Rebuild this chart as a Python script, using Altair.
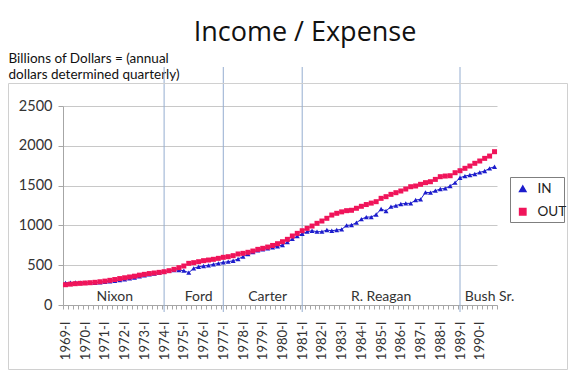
import altair as alt
import pandas as pd

years = list(range(1969, 1991))
roman = ["I", "II", "III", "IV"]
quarters = [f"{y}-{r}" for y in years for r in roman]

series_names = ["IN", "OUT"]
series_colors = ["#1C1CCC", "#F0145A"]
series_shapes = ["triangle-up", "square"]

income = [
    278, 282, 283, 282, 280, 278, 280, 285, 290, 298, 305, 312, 322, 335, 345, 360, 372, 385, 395, 408,
    418, 431, 440, 440, 431, 406, 461, 481, 490, 498, 511, 523, 536, 544, 556,
    578, 608, 640, 665, 686, 700, 712, 725, 738, 754, 790, 830, 865,
    895, 921, 933, 921, 921, 942, 933, 942, 950, 1000, 1005, 1034, 1078, 1105, 1105, 1137, 1206,
    1181, 1235, 1248, 1269, 1277, 1277, 1319, 1327, 1415, 1411, 1436, 1457, 1465, 1495, 1537, 1599,
    1620, 1633, 1646, 1666, 1683, 1717, 1737,
]
expense = [
    255, 262, 268, 272, 276, 280, 285, 292, 300, 310, 320, 332, 342, 352, 362, 375, 385, 395, 402, 410,
    418, 431, 448, 469, 490, 523, 532, 544, 557, 565, 574, 586, 599, 607, 620, 641, 649, 662, 678, 699,
    712, 728, 748, 770,
    795, 825, 867, 900, 933, 963, 992, 1026, 1055, 1089, 1130, 1152,
    1170, 1185, 1190, 1215, 1240, 1262, 1280,
    1298, 1340, 1361, 1390, 1411, 1432, 1457, 1486, 1495, 1516, 1537, 1549, 1578, 1612, 1620, 1624,
    1662, 1687, 1717, 1746, 1780, 1809, 1842, 1871, 1926,
]

president_starts = ["1974-I", "1977-I", "1981-I", "1989-I"]
president_names = ["Nixon", "Ford", "Carter", "R. Reagan", "Bush Sr."]
president_label_q = ["1971-III", "1975-IV", "1979-II", "1985-I", "1990-III"]

y_ticks = [0, 500, 1000, 1500, 2000, 2500]

df = pd.DataFrame({
    "q": quarters * 2,
    "series": ["IN"] * len(quarters) + ["OUT"] * len(quarters),
    "value": income + expense,
})
rules_df = pd.DataFrame({"q": president_starts})
labels_df = pd.DataFrame({"q": president_label_q, "name": president_names})
one_row = pd.DataFrame({"k": [0]})

W, H = 434, 199

xscale = alt.Scale(domain=quarters, type="band", paddingInner=0, paddingOuter=0)
yscale = alt.Scale(domain=[0, 2500], nice=False, zero=True)
x_axis = alt.Axis(
    title=None,
    labelExpr="slice(datum.label, 5) == 'I' ? datum.label : ''",
    labelAngle=-90,
    labelFont="Lato",
    labelFontSize=13,
    labelColor="#333333",
    labelPadding=12,
    labelOverlap=False,
    tickBand="extent",
    tickSize=4,
    tickColor="#A6A6A6",
    domainColor="#A6A6A6",
    grid=False,
)
y_axis = alt.Axis(
    values=y_ticks,
    format="d",
    labelOverlap=False,
    title=["Billions of Dollars = (annual", "dollars determined quarterly)"],
    titleAngle=0,
    titleAlign="left",
    titleBaseline="alphabetic",
    titleX=-55,
    titleY=-44,
    titleFont="Lato",
    titleFontSize=13.5,
    titleFontWeight="normal",
    titleColor="#111111",
    titleLineHeight=16,
    labelFont="Lato",
    labelFontSize=14.5,
    labelColor="#333333",
    labelPadding=6,
    tickSize=5,
    tickColor="#A6A6A6",
    domainColor="#A6A6A6",
    grid=True,
    gridColor="#C8C8C8",
)

legend = alt.Legend(
    title=None,
    orient="none",
    legendX=453,
    legendY=76,
    padding=0,
    labelFont="Lato",
    labelFontSize=13.5,
    labelColor="#222222",
    labelOffset=8,
    symbolSize=40,
    rowPadding=8,
)
color_enc = alt.Color("series:N", scale=alt.Scale(domain=series_names, range=series_colors), legend=legend)


def box(x0, x1, y0, y1, color):
    sides = [
        dict(x=alt.value(x0), x2=alt.value(x1), y=alt.value(y0), y2=alt.value(y0)),
        dict(x=alt.value(x0), x2=alt.value(x1), y=alt.value(y1), y2=alt.value(y1)),
        dict(x=alt.value(x0), x2=alt.value(x0), y=alt.value(y0), y2=alt.value(y1)),
        dict(x=alt.value(x1), x2=alt.value(x1), y=alt.value(y0), y2=alt.value(y1)),
    ]
    return [alt.Chart(one_row).mark_rule(color=color, strokeWidth=1).encode(**s) for s in sides]


frame_layers = box(-54.5, 504.5, -22.5, 263.5, "#D0D0D0")
legend_box_layers = box(447.5, 501.5, 71.5, 116.5, "#7F7F7F")

base_lines = alt.Chart(df).mark_line(strokeWidth=1).encode(
    x=alt.X("q:O", scale=xscale, axis=x_axis),
    y=alt.Y("value:Q", scale=yscale, axis=y_axis),
    color=color_enc,
)

points = alt.Chart(df).mark_point(filled=True, size=25, opacity=1).encode(
    x=alt.X("q:O", scale=xscale, axis=x_axis),
    y=alt.Y("value:Q", scale=yscale, axis=y_axis),
    color=color_enc,
    shape=alt.Shape("series:N", scale=alt.Scale(domain=series_names, range=series_shapes), legend=legend),
)

rules = alt.Chart(rules_df).mark_rule(color="#94ADD0", strokeWidth=1).encode(
    x=alt.X("q:O", scale=xscale, axis=x_axis),
    y=alt.value(-39),
    y2=alt.value(H + 7),
)

pres_text = alt.Chart(labels_df).mark_text(
    font="Lato", fontSize=14, color="#333333", baseline="alphabetic", align="center"
).encode(
    x=alt.X("q:O", scale=xscale, axis=x_axis),
    y=alt.value(H - 4),
    text="name:N",
)

chart = alt.layer(rules, base_lines, points, pres_text, *frame_layers, *legend_box_layers).properties(
    width=W,
    height=H,
    title=alt.TitleParams(
        "Income / Expense",
        font="Open Sans",
        fontSize=27,
        fontWeight="normal",
        color="#111111",
        anchor="middle",
        frame="group",
        dx=25,
        offset=4,
    ),
    autosize=alt.AutoSizeParams(type="none"),
    padding={"left": 55, "top": 98, "right": 71, "bottom": 65},
).configure_view(stroke=None)

chart.save("out.html", embed_options={"renderer": "svg", "actions": False})
